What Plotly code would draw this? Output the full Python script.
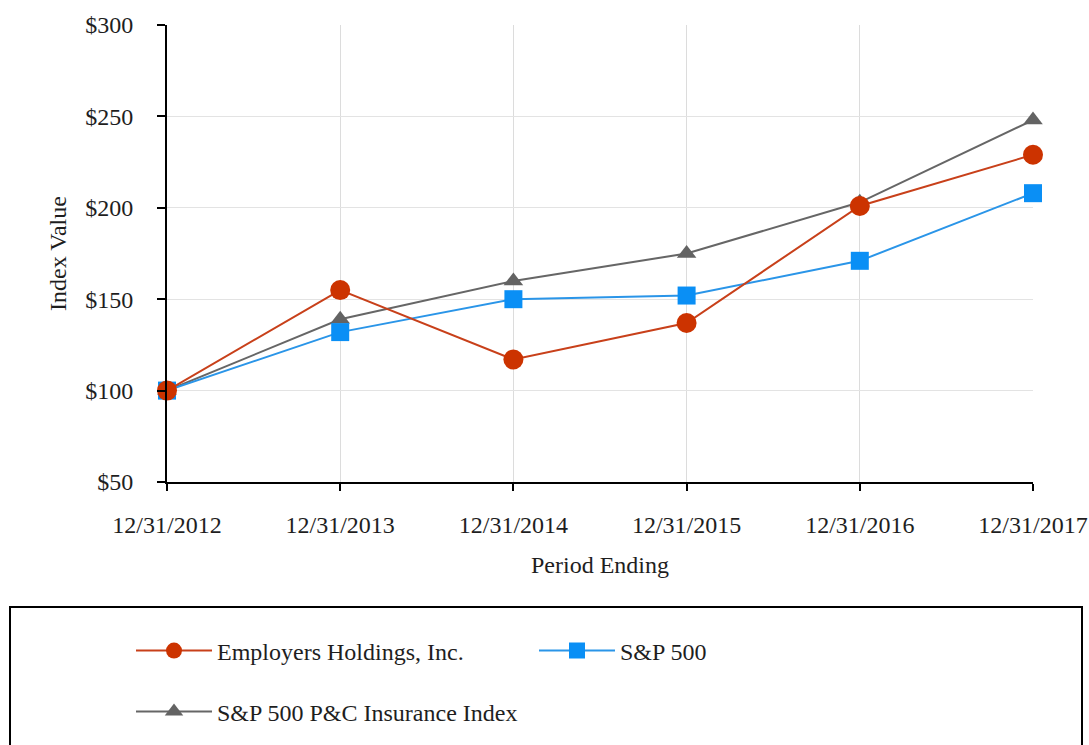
import plotly.graph_objects as go

periods = ["12/31/2012", "12/31/2013", "12/31/2014", "12/31/2015", "12/31/2016", "12/31/2017"]
employers = [100, 155, 117, 137, 201, 229]
sp500 = [100, 132, 150, 152, 171, 208]
pc_index = [100, 139, 160, 175, 203, 248]

FONT = "Liberation Serif"
TXT = "#1e1e1e"
FS = 24
W, H = 1089, 745
# plot area in page pixels: x 167..1033, y 25..482
L, R, T, B = 167, W - 1033, 25, H - 482
PW, PH = W - L - R, H - T - B


def px_x(px):
    return (px - L) / PW


def px_y(py):
    return (H - B - py) / PH


fig = go.Figure()
fig.add_trace(go.Scatter(
    x=periods, y=pc_index, name="S&P 500 P&C Insurance Index", mode="lines+markers",
    line=dict(color="#666666", width=2), marker=dict(symbol="triangle-up", size=17, color="#636363"),
    cliponaxis=False, legend="legend2"))
fig.add_trace(go.Scatter(
    x=periods, y=sp500, name="S&P 500", mode="lines+markers",
    line=dict(color="#2a95e8", width=2), marker=dict(symbol="square", size=18, color="#0a8ff5"),
    cliponaxis=False, legend="legend"))
fig.add_trace(go.Scatter(
    x=periods, y=employers, name="Employers Holdings, Inc.", mode="lines+markers",
    line=dict(color="#c8401a", width=2), marker=dict(symbol="circle", size=20, color="#cc3300"),
    cliponaxis=False, legend="legend"))

fig.update_layout(
    width=W, height=H,
    margin=dict(l=L, r=R, t=T, b=B, autoexpand=False),
    paper_bgcolor="white", plot_bgcolor="white",
    font=dict(family=FONT, size=FS, color=TXT),
    showlegend=True,
    legend=dict(orientation="h", x=px_x(131), xanchor="left", y=px_y(651), yanchor="middle",
                traceorder="reversed", entrywidth=312, itemwidth=76,
                font=dict(family=FONT, size=FS, color=TXT), bgcolor="rgba(0,0,0,0)"),
    legend2=dict(orientation="h", x=px_x(131), xanchor="left", y=px_y(712), yanchor="middle",
                 itemwidth=76, font=dict(family=FONT, size=FS, color=TXT),
                 bgcolor="rgba(0,0,0,0)"),
    shapes=[dict(type="rect", xref="paper", yref="paper",
                 x0=px_x(10), x1=px_x(1082), y0=px_y(607), y1=px_y(800),
                 line=dict(color="black", width=2), fillcolor="rgba(0,0,0,0)", layer="below")],
)

fig.update_xaxes(
    type="category", range=[0, 5], showgrid=True, gridcolor="#dcdcdc", gridwidth=1,
    showline=True, linecolor="black", linewidth=2, ticks="outside", ticklen=7,
    tickcolor="black", tickwidth=1.5, ticklabelstandoff=13, zeroline=False,
    tickfont=dict(family=FONT, size=FS, color=TXT),
    title=dict(text="Period Ending", font=dict(family=FONT, size=FS, color=TXT), standoff=19),
)
fig.update_yaxes(
    range=[50, 300], dtick=50, tickprefix="$", showgrid=True, gridcolor="#e3e3e3", gridwidth=1,
    showline=True, linecolor="black", linewidth=2, ticks="outside", ticklen=8,
    tickcolor="black", tickwidth=1.5, ticklabelstandoff=19, zeroline=False,
    tickfont=dict(family=FONT, size=FS, color=TXT),
    title=dict(text="Index Value", font=dict(family=FONT, size=FS, color=TXT), standoff=12),
)

fig.write_html(
    "out.html",
    config={"displayModeBar": False},
    post_script="document.body.style.margin='0';document.body.style.overflow='hidden';",
)
